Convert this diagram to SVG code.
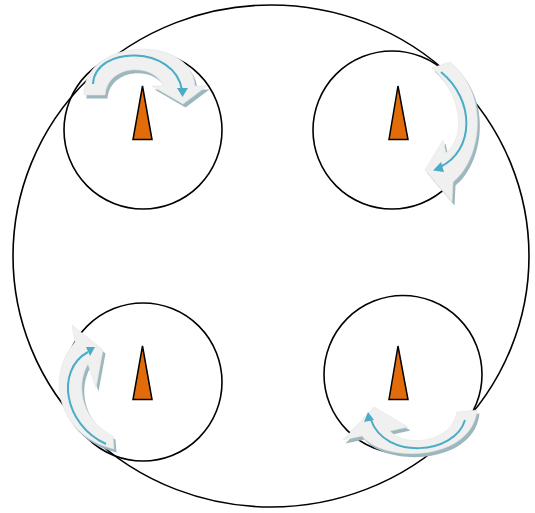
<svg xmlns="http://www.w3.org/2000/svg" width="535" height="513" viewBox="0 0 535 513">
<style>
.ring{fill:none;stroke:#000;stroke-width:1.6}
.needle{fill:#E36C0A;stroke:#000;stroke-width:1.5;stroke-linejoin:miter}
.band{fill:#F0F0F0;stroke:#E4E4E4;stroke-width:0.6}
.shade{fill:#9DB7BF}
.flow{fill:none;stroke:#4BACC6;stroke-width:2}
.tip{fill:#4BACC6}
</style>
<rect width="535" height="513" fill="#fff"/>
<g id="outer-circle"><ellipse class="ring" cx="271" cy="256" rx="258" ry="251"/></g>
<g id="dial-top-left">
<circle class="ring" cx="143" cy="130" r="79"/>
<polygon class="needle" points="142.5,86 133,139.5 152,139.5"/>
</g>
<g id="dial-top-right">
<circle class="ring" cx="392" cy="130" r="79"/>
<polygon class="needle" points="398,86 389,139.5 408,139.5"/>
</g>
<g id="dial-bottom-left">
<circle class="ring" cx="143" cy="382" r="79"/>
<polygon class="needle" points="142.5,346 133,399.5 152,399.5"/>
</g>
<g id="dial-bottom-right">
<circle class="ring" cx="403" cy="374.5" r="79"/>
<polygon class="needle" points="398,346 389,399.5 408,399.5"/>
</g>
<g id="connectors">
<g id="arrow-top-left">
<path class="shade" transform="translate(2.5,3.5)" d="M84,95 C83,38 191,33 195,86 L207,86 L183,104 L152,86 L163,86 C155,63 108,63 105,95 Z"/>
<path class="band" d="M84,95 C83,38 191,33 195,86 L207,86 L183,104 L152,86 L163,86 C155,63 108,63 105,95 Z"/>
<path class="flow" d="M93,84 C95,45 175,45 182,90"/>
<polygon class="tip" points="182.5,97 177,88 188,88"/>
</g>
<g id="arrow-top-right">
<path class="shade" transform="translate(2.5,3.5)" d="M432,68 C460,92 468,135 446,153 L443,140 L425,170 L452,202 L453,182 C481,160 491,95 450,62 Z"/>
<path class="band" d="M432,68 C460,92 468,135 446,153 L443,140 L425,170 L452,202 L453,182 C481,160 491,95 450,62 Z"/>
<path class="flow" d="M441,72 C475,100 475,150 440,167"/>
<polygon class="tip" points="433,170.5 441,162 444,172"/>
</g>
<g id="arrow-bottom-right">
<path class="shade" transform="translate(2.5,3.5)" d="M457,412 C452,443 405,448 390,431 L408,427 L374,407 L343,440 L362,436 C385,464 472,461 477,410 Z"/>
<path class="band" d="M457,412 C452,443 405,448 390,431 L408,427 L374,407 L343,440 L362,436 C385,464 472,461 477,410 Z"/>
<path class="flow" d="M465,420 C455,455 385,460 371,420"/>
<polygon class="tip" points="368,412 364,422 374,420"/>
</g>
<g id="arrow-bottom-left">
<path class="shade" transform="translate(2.5,3.5)" d="M113,436 C84,422 74,388 88,364 L96,388 L103,350 L72,325 L75,342 C46,375 56,435 114,449 Z"/>
<path class="band" d="M113,436 C84,422 74,388 88,364 L96,388 L103,350 L72,325 L75,342 C46,375 56,435 114,449 Z"/>
<path class="flow" d="M106,444 C64,425 55,370 88,352"/>
<polygon class="tip" points="95,347 86,347 90,356"/>
</g>
</g>
</svg>
